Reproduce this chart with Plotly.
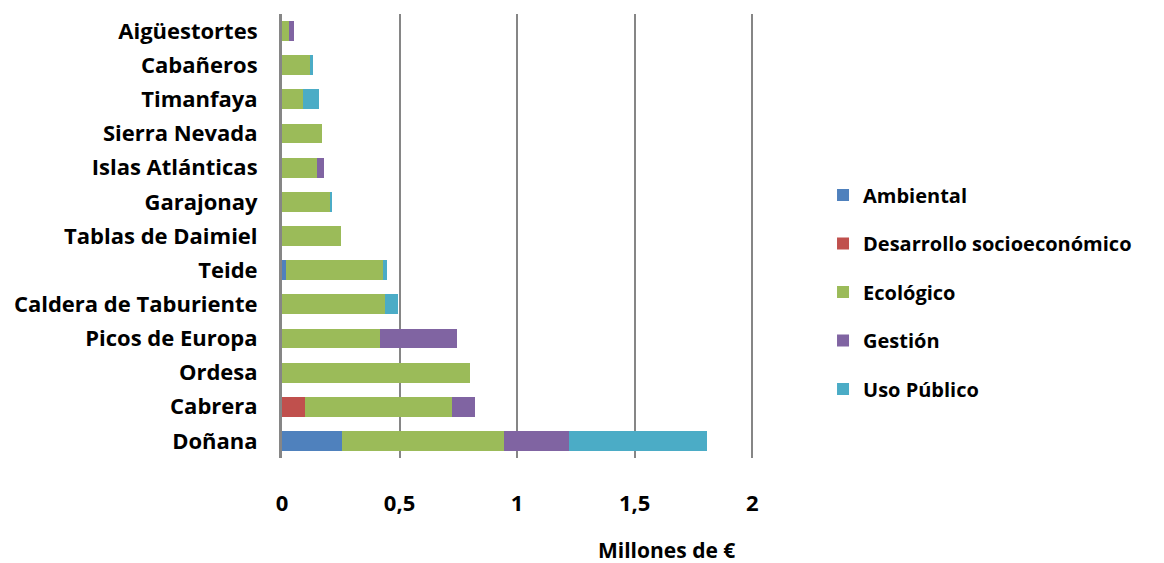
import plotly.graph_objects as go

parques = ["Doñana", "Cabrera", "Ordesa", "Picos de Europa", "Caldera de Taburiente",
           "Teide", "Tablas de Daimiel", "Garajonay", "Islas Atlánticas",
           "Sierra Nevada", "Timanfaya", "Cabañeros", "Aigüestortes"]

ambiental = [0.255, 0, 0, 0, 0, 0.017, 0, 0, 0, 0, 0, 0, 0]
desarrollo = [0, 0.096, 0, 0, 0, 0, 0, 0, 0, 0, 0, 0, 0]
ecologico = [0.691, 0.626, 0.80, 0.418, 0.438, 0.411, 0.252, 0.206, 0.149, 0.172, 0.091, 0.118, 0.030]
gestion = [0.275, 0.099, 0, 0.326, 0, 0, 0, 0, 0.028, 0, 0, 0, 0.021]
uso_publico = [0.588, 0, 0, 0, 0.054, 0.019, 0, 0.008, 0, 0, 0.068, 0.014, 0]

series = [
    ("Ambiental", ambiental, "#4F81BD"),
    ("Desarrollo socioeconómico", desarrollo, "#C0504D"),
    ("Ecológico", ecologico, "#9BBB59"),
    ("Gestión", gestion, "#8064A2"),
    ("Uso Público", uso_publico, "#4BACC6"),
]

tick_vals = [0, 0.5, 1, 1.5, 2]
tick_text = ["0", "0,5", "1", "1,5", "2"]

fig = go.Figure()
for name, vals, color in series:
    fig.add_trace(go.Bar(
        y=parques, x=vals, name=name, orientation="h",
        marker=dict(color=color, line=dict(width=0)),
        legendgroup=name,
    ))

font_family = "Open Sans"
fs = 22
fig.update_layout(
    barmode="stack",
    bargap=0.42,
    width=1164, height=563,
    paper_bgcolor="white", plot_bgcolor="white",
    margin=dict(l=274, r=415, t=6, b=113),
    font=dict(family=font_family, size=fs, color="black", weight="bold"),
    showlegend=True,
    legend=dict(
        x=1.139, xanchor="left", y=0.374, yanchor="middle",
        traceorder="grouped", tracegroupgap=19.5,
        font=dict(family=font_family, size=20, color="black", weight="bold"),
        itemwidth=30,
    ),
    xaxis=dict(
        range=[0, 2.02], tickvals=tick_vals, ticktext=tick_text,
        showgrid=True, gridcolor="#868686", gridwidth=2,
        zeroline=False, showline=False, ticks="",
        ticklabelstandoff=30, automargin=False,
        tickfont=dict(family=font_family, size=fs, color="black", weight="bold"),
        fixedrange=True,
    ),
    yaxis=dict(
        categoryorder="array", categoryarray=parques,
        showline=True, linecolor="#868686", linewidth=3,
        showgrid=False, ticks="", ticklabelstandoff=17, automargin=False,
        tickfont=dict(family=font_family, size=fs, color="black", weight="bold"),
        range=[-0.5, 12.5],
    ),
    annotations=[dict(
        text="Millones de €", xref="paper", yref="paper",
        x=0.8105, y=-(550 - 458) / 444, xanchor="center", yanchor="middle",
        showarrow=False,
        font=dict(family=font_family, size=21, color="black", weight="bold"),
    )],
)

fig.write_html("out.html")
